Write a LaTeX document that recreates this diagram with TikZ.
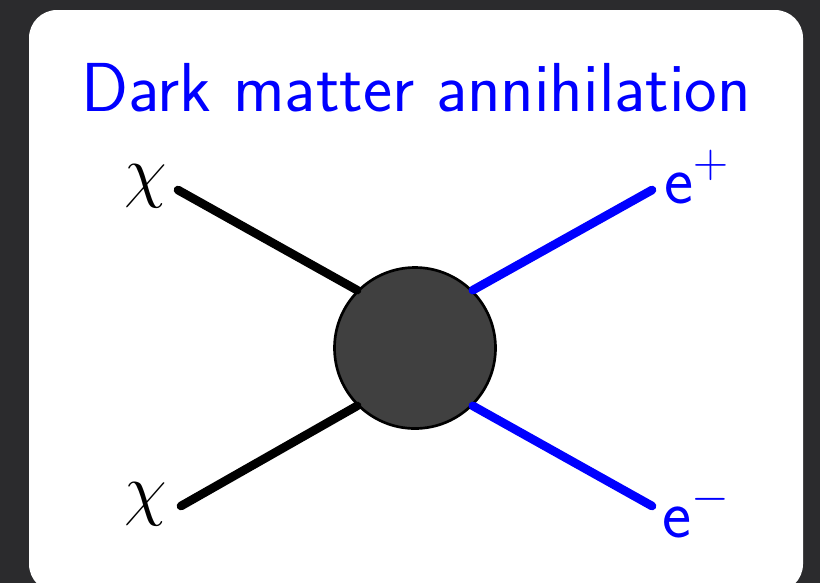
\RequirePackage{fix-cm}
\documentclass[tikz,border=0pt]{standalone}
\usepackage{amsmath}

\definecolor{bgdark}{HTML}{2B2B2D}
\definecolor{blobgray}{HTML}{404040}
\definecolor{leptonblue}{HTML}{0000FF}

\tikzset{every picture/.style={line width=0.75pt}}
\tikzset{
  dmline/.style={line width=6.5pt, line cap=round, black},
  lepline/.style={line width=6.5pt, line cap=round, leptonblue},
  blob/.style={circle, draw=black, line width=2pt, fill=blobgray, minimum size=120.75pt, inner sep=0pt},
  bigtext/.style={font=\fontsize{52}{62}\selectfont, inner sep=0pt},
}

\begin{document}
\begin{tikzpicture}[x=0.75pt,y=0.75pt,yscale=-1,xscale=1]
\useasboundingbox (0,0) rectangle (820,583);
\clip (0,0) rectangle (820,583);

%Shape: Rectangle [id:bg] 
\fill [bgdark] (0,0) rectangle (820,583);
%Shape: Rounded Rect [id:panel] 
\fill [white, rounded corners=21pt] (29,10) rectangle (803,592);

% Title
\node [bigtext, leptonblue, anchor=base] (title) at (416,111) {\sffamily Dark matter annihilation};

%Shape: Circle [id:vertex] 
\node [blob] (vtx) at (415,348) {};

% Line ends
\coordinate (chiTopEnd) at (178,190);
\coordinate (chiBotEnd) at (181,506);
\coordinate (posEnd) at (652,190);
\coordinate (eleEnd) at (652,506);

%Straight Lines [id:incoming] 
\draw [dmline] (chiTopEnd) -- (vtx.135);
\draw [dmline] (chiBotEnd) -- (vtx.225);
%Straight Lines [id:outgoing] 
\draw [lepline] (posEnd) -- (vtx.45);
\draw [lepline] (eleEnd) -- (vtx.315);

% Text Node
\node [bigtext, anchor=base] (chiTop) at (146,194) {$\chi$};
% Text Node
\node [bigtext, anchor=base] (chiBot) at (146,512) {$\chi$};
% Text Node
\node [bigtext, leptonblue, anchor=base west] (positron) at (664,203) {$\mathsf{e}^{+}$};
% Text Node
\node [bigtext, leptonblue, anchor=base west] (electron) at (662,537) {$\mathsf{e}^{-}$};

\end{tikzpicture}
\end{document}
